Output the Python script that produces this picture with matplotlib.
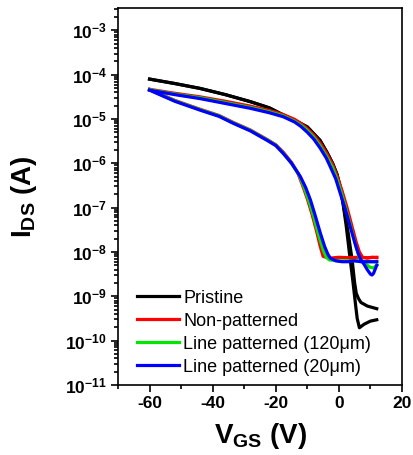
import matplotlib
matplotlib.use('Agg')
import matplotlib.pyplot as plt
from matplotlib.ticker import FixedLocator, MultipleLocator, LogLocator, FuncFormatter, NullFormatter
import numpy as np

plt.rcParams['font.family'] = ['Liberation Sans', 'DejaVu Sans']
plt.rcParams['mathtext.fontset'] = 'custom'
plt.rcParams['mathtext.rm'] = 'Liberation Sans:bold'
plt.rcParams['mathtext.bf'] = 'Liberation Sans:bold'
plt.rcParams['mathtext.default'] = 'bf'
plt.rcParams['axes.unicode_minus'] = False

# transfer curves, log10(I_DS)
# pristine
vk_a = [-60,-52,-44,-36,-28,-22,-17.6,-14,-10,-6,-3.8,-2,-0.6,0.5,1.4,2.3,3.3,4.5,5.3,5.8,6.5,8,10,12]
ik_a = [-4.10,-4.2,-4.31,-4.45,-4.61,-4.75,-4.91,-5.03,-5.18,-5.48,-5.75,-6.0,-6.25,-6.55,-6.95,-7.4,-8.0,-8.7,-9.2,-9.5,-9.71,-9.63,-9.56,-9.53]
vk_b = [-60,-52,-44,-36,-28,-22,-17.6,-14,-10,-6,-3.8,-2,-0.6,0.6,1.6,2.8,4.2,5.0,5.5,6.2,7,9,12]
ik_b = [-4.10,-4.2,-4.31,-4.45,-4.61,-4.75,-4.91,-5.03,-5.18,-5.48,-5.75,-6.0,-6.25,-6.6,-7.0,-7.5,-8.18,-8.7,-8.93,-9.05,-9.14,-9.22,-9.28]
# non-patterned
vr_u = [-60,-52,-44,-36,-28,-22,-17.6,-14,-12,-10,-8,-6,-4,-2,-0.5,1,2.5,4,5.5,6.5,7.5,9,10.5,12]
ir_u = [-4.33,-4.42,-4.5,-4.6,-4.71,-4.81,-4.9,-5.01,-5.1,-5.22,-5.36,-5.54,-5.76,-6.03,-6.3,-6.62,-6.98,-7.38,-7.78,-8.0,-8.12,-8.14,-8.12,-8.13]
vr_l = [-60,-52,-44,-38,-33.4,-28,-22.8,-20,-17.6,-15,-13,-11.5,-10,-8.5,-7,-6,-5,-3,0,3,6,9,12]
ir_l = [-4.33,-4.58,-4.78,-4.92,-5.08,-5.25,-5.46,-5.58,-5.75,-5.98,-6.22,-6.5,-6.8,-7.15,-7.55,-7.85,-8.1,-8.14,-8.12,-8.13,-8.12,-8.13,-8.12]
# line patterned 120 um
vg_u = [-60,-52,-44,-36,-28,-22,-17.6,-14,-12,-10,-8,-6,-4,-2,-0.5,1,2.5,4,5.5,6.5,7.5,9,10,11,12]
ig_u = [-4.34,-4.44,-4.52,-4.63,-4.74,-4.84,-4.93,-5.05,-5.14,-5.26,-5.41,-5.6,-5.83,-6.1,-6.38,-6.72,-7.1,-7.5,-7.9,-8.12,-8.22,-8.3,-8.35,-8.36,-8.3]
vg_l = [-60,-52,-44,-38,-33.4,-28,-22.8,-20,-17.6,-15,-12.5,-11,-9.5,-8,-6.5,-5,-4,-3,0,3,6,9,12]
ig_l = [-4.34,-4.59,-4.79,-4.93,-5.09,-5.26,-5.47,-5.59,-5.77,-6.0,-6.28,-6.55,-6.85,-7.2,-7.6,-7.95,-8.12,-8.18,-8.2,-8.2,-8.2,-8.22,-8.22]
# line patterned 20 um
vb_u = [-60,-52,-44,-36,-28,-22,-17.6,-14,-12,-10,-8,-6,-4,-2.7,-1,0.4,2,3.6,5,6.1,7,8,9,10,10.5,11,12]
ib_u = [-4.35,-4.45,-4.54,-4.65,-4.76,-4.86,-4.95,-5.07,-5.17,-5.3,-5.45,-5.65,-5.88,-6.08,-6.35,-6.67,-7.03,-7.43,-7.78,-8.03,-8.18,-8.28,-8.4,-8.5,-8.52,-8.48,-8.3]
vb_l = [-60,-52,-44,-38,-33.4,-28,-22.8,-20,-17.6,-15,-12.2,-10.5,-9,-7.5,-5.9,-4.5,-3.5,-2.7,-1,1,3,5,7,9,12]
ib_l = [-4.35,-4.6,-4.80,-4.94,-5.10,-5.27,-5.48,-5.6,-5.78,-6.0,-6.30,-6.55,-6.83,-7.18,-7.57,-7.88,-8.05,-8.14,-8.2,-8.22,-8.22,-8.2,-8.22,-8.22,-8.22]

labels = ['Pristine', 'Non-patterned', 'Line patterned (120\u03bcm)', 'Line patterned (20\u03bcm)']
colors = ['black', '#ff0000', '#00e600', '#0000ff']

fig = plt.figure(figsize=(4.14, 4.55), dpi=100)
ax = fig.add_axes([0.285, 0.154, 0.686, 0.828])

curves = [(vk_a, ik_a, vk_b, ik_b), (vr_u, ir_u, vr_l, ir_l),
          (vg_u, ig_u, vg_l, ig_l), (vb_u, ib_u, vb_l, ib_l)]
for (v1, i1, v2, i2), c, lab in zip(curves, colors, labels):
    ax.plot(v1, 10 ** np.array(i1), color=c, lw=2.3, label=lab)
    ax.plot(v2, 10 ** np.array(i2), color=c, lw=2.3)

ax.set_yscale('log')
ax.set_xlim(-70, 20)
ax.set_ylim(1e-11, 10 ** -2.5)
ax.xaxis.set_major_locator(FixedLocator([-60, -40, -20, 0, 20]))
ax.xaxis.set_minor_locator(MultipleLocator(10))
ax.yaxis.set_major_locator(FixedLocator([10.0 ** k for k in range(-11, -2)]))
ax.yaxis.set_minor_locator(LogLocator(base=10, subs=np.arange(2, 10), numticks=20))
ax.yaxis.set_minor_formatter(NullFormatter())
ax.yaxis.set_major_formatter(FuncFormatter(lambda v, p: r'$\mathbf{10^{%d}}$' % int(round(np.log10(v)))))
ax.tick_params(which='both', direction='out', right=False, top=False, width=1.2)
ax.tick_params(which='major', length=5, labelsize=12.5, pad=3)
ax.tick_params(which='minor', length=3)
for lab in ax.get_xticklabels():
    lab.set_fontweight('bold')
for s in ax.spines.values():
    s.set_linewidth(1.2)

ax.set_xlabel(r'V$_{\mathbf{GS}}$ (V)', fontsize=20, fontweight='bold', labelpad=7)
ax.set_ylabel(r'I$_{\mathbf{DS}}$ (A)', fontsize=20, fontweight='bold', labelpad=19)

ax.legend(loc='lower left', bbox_to_anchor=(0.02, -0.011), frameon=False, fontsize=13,
          handlelength=2.3, handletextpad=0.25, labelspacing=0.33, borderpad=0.25)

fig.savefig('out.png', dpi=100)
